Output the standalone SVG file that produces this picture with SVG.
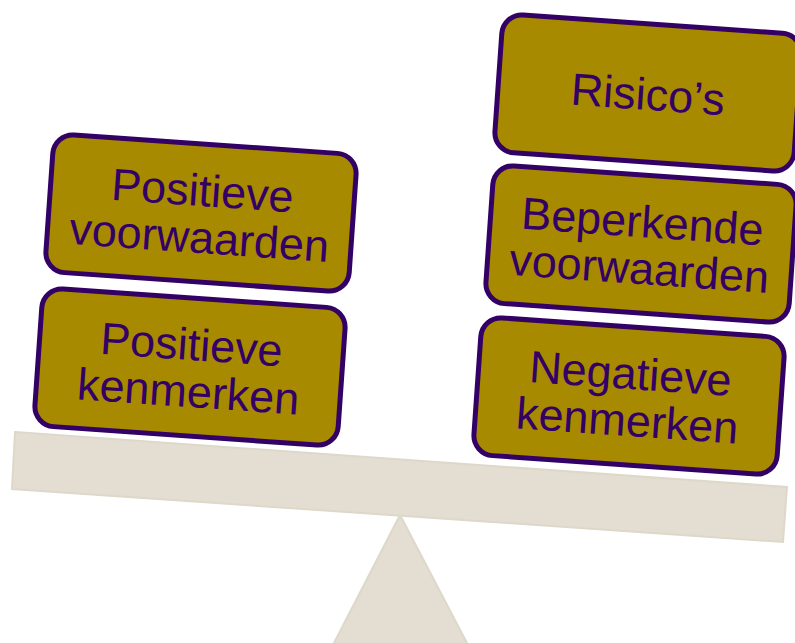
<svg xmlns="http://www.w3.org/2000/svg" width="795" height="643" viewBox="0 0 795 643">
<style>
.box rect{fill:#A78A00;stroke:#330066;stroke-width:5}
.box text{font-family:"Liberation Sans",Arial,sans-serif;font-size:45px;fill:#330066;text-anchor:middle}
.scale{fill:#E3DED1;stroke:#DDD8C9;stroke-width:2}
</style>
<rect width="795" height="643" fill="#FFFFFF"/>
<g id="seesaw">
<polygon class="scale" points="400,515 333,645 468,645"/>
<polygon class="scale" points="15,432 787,487 783,542 12,489"/>
</g>
<g id="connectors"></g>
<g id="positieve-voorwaarden" class="box" transform="translate(201,213) rotate(4)">
<rect x="-152" y="-69" width="304" height="138" rx="20"/>
<text x="0" y="-7">Positieve</text>
<text x="0" y="40">voorwaarden</text>
</g>
<g id="positieve-kenmerken" class="box" transform="translate(190,367) rotate(4)">
<rect x="-152" y="-69" width="304" height="138" rx="20"/>
<text x="0" y="-7">Positieve</text>
<text x="0" y="40">kenmerken</text>
</g>
<g id="risicos" class="box" transform="translate(648,93) rotate(4)">
<rect x="-150" y="-69" width="300" height="138" rx="20"/>
<text x="0" y="17">Risico’s</text>
</g>
<g id="beperkende-voorwaarden" class="box" transform="translate(641,244) rotate(4)">
<rect x="-152" y="-69" width="304" height="138" rx="20"/>
<text x="0" y="-7">Beperkende</text>
<text x="0" y="40">voorwaarden</text>
</g>
<g id="negatieve-kenmerken" class="box" transform="translate(629,396) rotate(4)">
<rect x="-152" y="-69" width="304" height="138" rx="20"/>
<text x="0" y="-7">Negatieve</text>
<text x="0" y="40">kenmerken</text>
</g>
</svg>
